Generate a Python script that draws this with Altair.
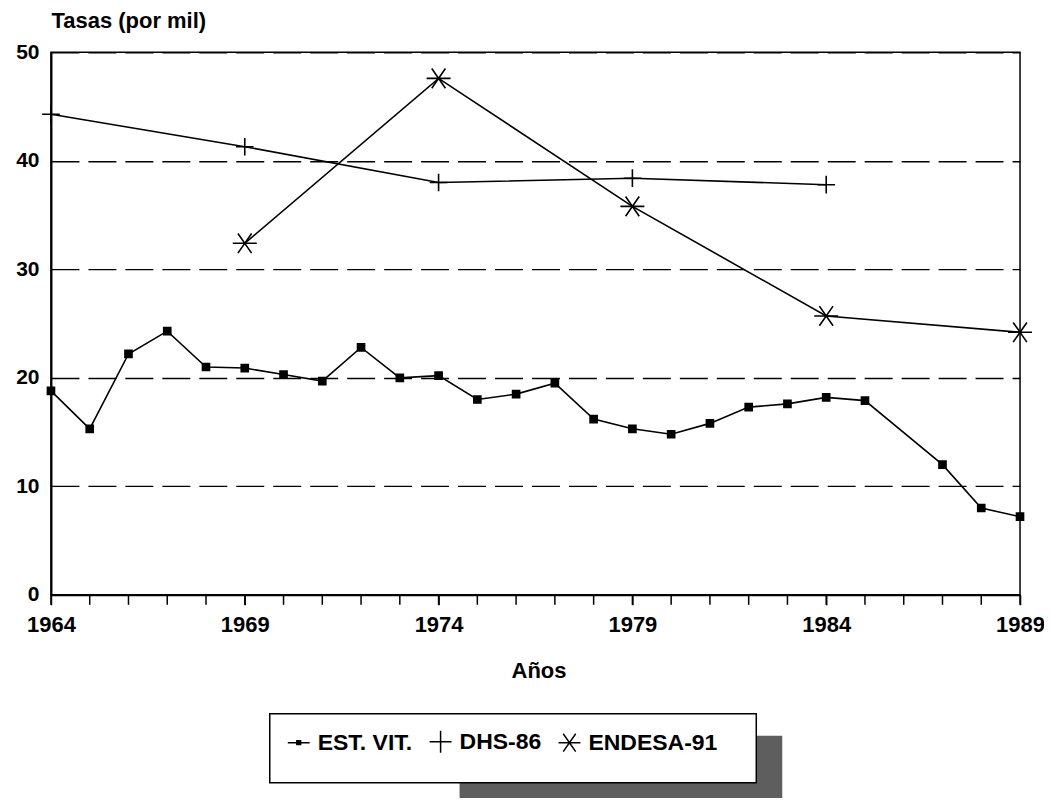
import altair as alt
import pandas as pd

# ---------------- data ----------------
series_names = ["EST. VIT.", "DHS-86", "ENDESA-91"]

est_years = [1964, 1965, 1966, 1967, 1968, 1969, 1970, 1971, 1972, 1973, 1974, 1975,
             1976, 1977, 1978, 1979, 1980, 1981, 1982, 1983, 1984, 1985, 1987, 1988, 1989]
est_vals = [18.8, 15.3, 22.2, 24.3, 21.0, 20.9, 20.3, 19.7, 22.8, 20.0, 20.2, 18.0,
            18.5, 19.5, 16.2, 15.3, 14.8, 15.8, 17.3, 17.6, 18.2, 17.9, 12.0, 8.0, 7.2]

dhs_years = [1964, 1969, 1974, 1979, 1984]
dhs_vals = [44.3, 41.3, 38.0, 38.4, 37.8]

endesa_years = [1969, 1974, 1979, 1984, 1989]
endesa_vals = [32.4, 47.6, 35.8, 25.7, 24.2]

minor_years = list(range(1964, 1990))
label_years = [1964, 1969, 1974, 1979, 1984, 1989]
y_ticks = [0, 10, 20, 30, 40, 50]

rows = []
for yr, v in zip(est_years, est_vals):
    rows.append({"anio": yr, "tasa": v, "serie": series_names[0]})
for yr, v in zip(dhs_years, dhs_vals):
    rows.append({"anio": yr, "tasa": v, "serie": series_names[1]})
for yr, v in zip(endesa_years, endesa_vals):
    rows.append({"anio": yr, "tasa": v, "serie": series_names[2]})
df = pd.DataFrame(rows)
df_minor = pd.DataFrame({"anio": minor_years})

FONT = "Liberation Sans"

# marker shapes
square = "square"
cross = "M -1 0 L 1 0 M 0 -1 L 0 1"
star = "M -1 0 L 1 0 M -0.57 -0.82 L 0.57 0.82 M -0.57 0.82 L 0.57 -0.82"
legend_est = ("M -1 0 L 1 0 "
              "M -0.17 -0.17 L 0.17 -0.17 L 0.17 0.17 L -0.17 0.17 Z "
              "M -0.17 -0.085 L 0.17 -0.085 M -0.17 0.085 L 0.17 0.085 "
              "M -0.085 -0.17 L -0.085 0.17 M 0.085 -0.17 L 0.085 0.17 "
              "M 0 -0.17 L 0 0.17")

x_scale = alt.Scale(domain=[1964, 1989], nice=False, zero=False)

x_enc = alt.X("anio:Q", scale=x_scale,
              axis=alt.Axis(values=label_years, format="d",
                            tickSize=10, tickColor="black", tickWidth=1.5,
                            domainColor="black", domainWidth=2,
                            labelFont=FONT, labelFontSize=22, labelFontWeight="bold",
                            labelColor="black",
                            labelPadding=10, labelFlush=False, labelOverlap=False,
                            grid=False,
                            title="Años", titleFont=FONT, titleFontSize=22,
                            titleFontWeight="bold", titleColor="black",
                            titleX=488, titleY=76, titleBaseline="middle"))

y_enc = alt.Y("tasa:Q",
              scale=alt.Scale(domain=[0, 50], nice=False),
              axis=alt.Axis(values=y_ticks, ticks=False,
                            domainColor="black", domainWidth=2,
                            labelFont=FONT, labelFontSize=21, labelFontWeight="bold",
                            labelColor="black",
                            labelPadding=12,
                            grid=True, gridColor="black", gridWidth=1.3,
                            gridDash=[28, 9],
                            title="Tasas (por mil)", titleFont=FONT, titleFontSize=22,
                            titleFontWeight="bold", titleColor="black",
                            titleAngle=0, titleAlign="left", titleBaseline="alphabetic",
                            titleX=0, titleY=-25))

base = alt.Chart(df)

lines = base.mark_line(color="black", strokeWidth=1.6).encode(
    x=x_enc, y=y_enc, detail="serie:N"
)

minor_ticks = alt.Chart(df_minor).mark_rule(color="black", strokeWidth=1.5).encode(
    x=alt.X("anio:Q", scale=x_scale),
    y=alt.value(543), y2=alt.value(553)
)

points = base.mark_point(filled=True, fill="black", stroke="black",
                         strokeWidth=1.6, opacity=1).encode(
    x="anio:Q", y="tasa:Q",
    shape=alt.Shape("serie:N",
                    scale=alt.Scale(domain=series_names, range=[square, cross, star]),
                    legend=None),
    size=alt.Size("serie:N",
                  scale=alt.Scale(domain=series_names, range=[50, 576, 484]),
                  legend=None),
)

legend_layer = base.transform_filter("false").mark_point(
    filled=False, stroke="black", strokeWidth=1.5, opacity=1
).encode(
    x="anio:Q", y="tasa:Q",
    shape=alt.Shape("serie:N",
                    scale=alt.Scale(domain=series_names,
                                    range=[legend_est, cross, star]),
                    legend=alt.Legend(title=None, orient="none",
                                      legendX=236, legendY=678,
                                      direction="horizontal",
                                      labelFont=FONT, labelFontSize=23,
                                      labelFontWeight="bold",
                                      labelColor="black", labelOffset=7,
                                      columnPadding=14,
                                      symbolSize=480, symbolStrokeWidth=1.5,
                                      symbolStrokeColor="black",
                                      symbolOpacity=1, padding=0)),
)

deco = alt.Chart(pd.DataFrame({"k": [0]}))
shadow = deco.mark_rect(color="#5e5e5e").encode(
    x=alt.value(409), x2=alt.value(732), y=alt.value(684), y2=alt.value(760)
)
box = deco.mark_rect(fill="white", stroke="black", strokeWidth=1.5).encode(
    x=alt.value(219), x2=alt.value(706), y=alt.value(662), y2=alt.value(731)
)

chart = alt.layer(shadow, box, minor_ticks, lines, points, legend_layer).resolve_scale(
    shape="independent", size="independent"
).properties(
    width=970, height=543,
    autosize=alt.AutoSizeParams(type="none"),
    padding={"left": 43, "top": 44, "right": 24, "bottom": 203},
    background="white",
).configure_view(stroke="black", strokeWidth=1.5)

chart.save("out.html", embed_options={"renderer": "svg", "actions": False})
